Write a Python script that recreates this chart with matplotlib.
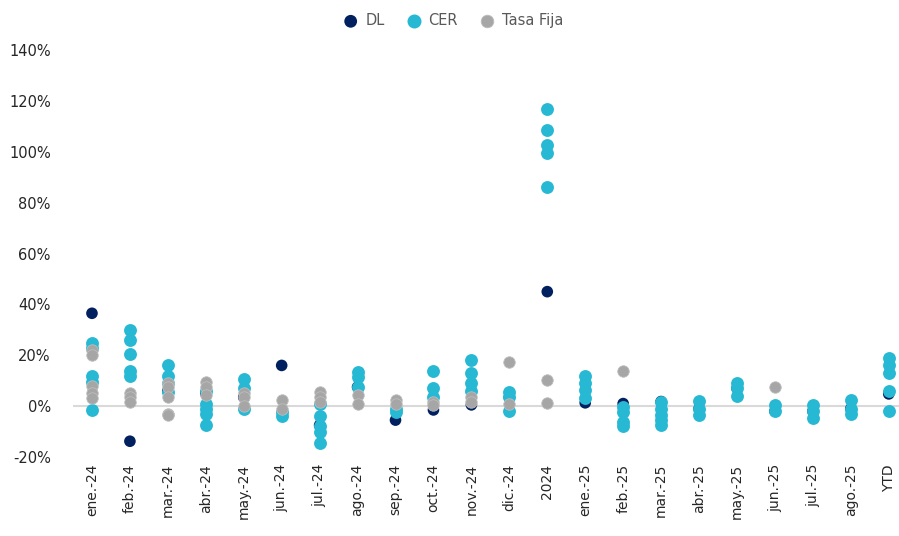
import matplotlib.pyplot as plt
from matplotlib.ticker import FuncFormatter

# categorias del eje X
meses = ['ene.-24', 'feb.-24', 'mar.-24', 'abr.-24', 'may.-24', 'jun.-24', 'jul.-24',
         'ago.-24', 'sep.-24', 'oct.-24', 'nov.-24', 'dic.-24', '2024', 'ene.-25',
         'feb.-25', 'mar.-25', 'abr.-25', 'may.-25', 'jun.-25', 'jul.-25', 'ago.-25', 'YTD']

# rendimientos (%) por mes, una lista por categoria
dl = [[36.5], [-13.8], [6.0], [5.0], [3.5], [16.0], [-7.5], [7.5], [-5.5], [-1.5], [0.5],
      [3.5], [45.0], [1.3], [1.0], [1.8], [-1.0], [7.0], [-2.0], [-2.0], [-1.0], [4.8]]

cer = [[25.0, 23.0, 12.0, 9.5, -1.5],
       [30.0, 26.0, 20.5, 14.0, 12.0],
       [16.0, 12.0, 9.0, 5.5],
       [6.0, 1.0, -1.0, -3.0, -7.5],
       [10.5, 7.0, -1.0],
       [-2.5, -4.0],
       [1.0, -4.0, -8.0, -10.0, -14.5],
       [13.5, 11.5, 7.5],
       [-1.0, -2.5],
       [14.0, 7.0, 3.5],
       [18.0, 13.0, 9.0, 6.0],
       [5.5, 3.5, -2.0],
       [117.0, 108.5, 102.5, 99.6, 86.2],
       [12.0, 9.0, 6.3, 3.0],
       [-0.3, -2.3, -6.3, -8.0],
       [1.5, -1.0, -3.5, -5.5, -7.5],
       [2.0, -1.0, -3.5],
       [9.0, 7.0, 4.0],
       [0.5, -2.0],
       [0.5, -2.0, -4.5],
       [2.4, -1.0, -3.0],
       [19.0, 16.0, 13.0, 6.0, -2.0]]

tasa_fija = [[22.0, 20.0, 8.0, 5.0, 3.0],
             [5.0, 3.5, 1.5],
             [9.0, 7.5, 3.5, -3.0, -3.5],
             [9.5, 7.5, 4.5],
             [5.0, 3.5, 0.0],
             [2.4, -1.0],
             [5.5, 3.5, 1.5],
             [4.5, 1.0],
             [2.4, 1.0],
             [1.5, 0.5],
             [3.5, 1.5],
             [17.5, 1.0],
             [10.3, 1.3],
             [], [13.8], [], [], [], [7.5], [], [], []]

colores = {'DL': '#002060', 'CER': '#27B9D4', 'Tasa Fija': '#A6A6A6'}
bordes = {'DL': 'none', 'CER': '#27B9D4', 'Tasa Fija': '#BDBDBD'}
tamanos = {'DL': 70, 'CER': 62, 'Tasa Fija': 68}
grosor = {'DL': 0, 'CER': 1.4, 'Tasa Fija': 0.6}

fig = plt.figure(figsize=(8.99, 5.36), dpi=100)
ax = fig.add_axes([73 / 899, 79 / 536, 826 / 899, 407 / 536])

for nombre, serie in [('DL', dl), ('CER', cer), ('Tasa Fija', tasa_fija)]:
    xs = []
    ys = []
    for i, vals in enumerate(serie):
        for v in vals:
            xs.append(i)
            ys.append(v / 100)
    ax.scatter(xs, ys, s=tamanos[nombre], color=colores[nombre], edgecolors=bordes[nombre],
               linewidths=grosor[nombre], label=nombre, zorder=3)

ax.axhline(0, color='#D9D9D9', linewidth=1.5, zorder=1)

ax.set_xlim(-0.5, 21.27)
ax.set_ylim(-0.2, 1.4)
ax.set_yticks([-0.2, 0, 0.2, 0.4, 0.6, 0.8, 1.0, 1.2, 1.4])
ax.yaxis.set_major_formatter(FuncFormatter(lambda v, p: '{:.0f}%'.format(v * 100)))
ax.set_xticks(range(len(meses)))
ax.set_xticklabels(meses, rotation=90, fontsize=10, color='#262626')
ax.tick_params(axis='y', labelsize=10.5, labelcolor='#262626', length=0, pad=16)
ax.tick_params(axis='x', length=0, pad=5)
for s in ax.spines.values():
    s.set_visible(False)

fig.legend(loc='upper center', bbox_to_anchor=(0.5, 1.0), ncol=3, frameon=False,
           fontsize=10.5, labelcolor='#595959', handletextpad=0.0, columnspacing=1.0,
           markerscale=1.1)

plt.savefig('out.png', dpi=100)
